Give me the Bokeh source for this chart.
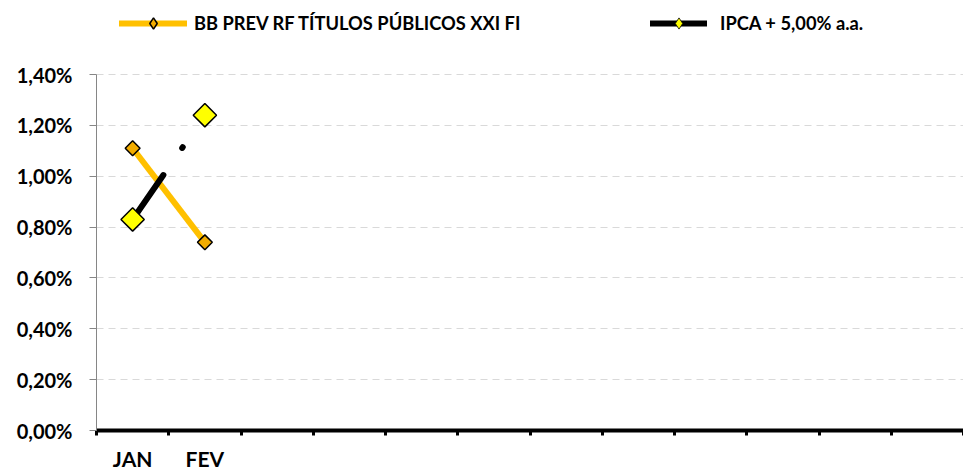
import math
from bokeh.plotting import figure
from bokeh.models import Range1d, FixedTicker, Legend, LegendItem
from bokeh.embed import file_html
from bokeh.resources import INLINE

# ---- data ----
months = ["JAN", "FEV"]
n_slots = 12
bb_prev = [1.11, 0.74]          # % a.m.
ipca = [0.83, 1.24]             # % a.m.
y_ticks = [0.0, 0.2, 0.4, 0.6, 0.8, 1.0, 1.2, 1.4]
y_tick_labels = ["0,00%", "0,20%", "0,40%", "0,60%", "0,80%", "1,00%", "1,20%", "1,40%"]
series_names = ["BB PREV RF TÍTULOS PÚBLICOS XXI FI", "IPCA + 5,00% a.a."]

FONT = "Lato"
x = [i + 0.5 for i in range(len(months))]

# layout (pixels): frame spans the full height above the x axis so the legend
# sits inside the frame; the y axis line is bounded to the data range.
W, H, LEFT, BOTTOM, PLOT_TOP = 963, 474, 96, 44, 74
frame_h = H - BOTTOM
y_max = y_ticks[-1]
y_end = y_max * frame_h / (frame_h - PLOT_TOP)

p = figure(width=W, height=H, x_range=Range1d(0, n_slots), y_range=Range1d(0, y_end),
           output_backend="svg", toolbar_location=None,
           min_border_left=LEFT, min_border_right=0, min_border_top=0, min_border_bottom=BOTTOM)
p.outline_line_color = None
p.background_fill_color = "white"

# x axis
xa = p.xaxis[0]
xa.ticker = FixedTicker(ticks=x, minor_ticks=list(range(n_slots + 1)))
xa.major_label_overrides = {xv: m for xv, m in zip(x, months)}
xa.major_tick_out = 0
xa.major_tick_in = 0
xa.minor_tick_out = 5
xa.minor_tick_in = 0
xa.minor_tick_line_color = "black"
xa.minor_tick_line_width = 3
xa.axis_line_color = "black"
xa.axis_line_width = 4
xa.major_label_standoff = 10
xa.major_label_text_font = FONT
xa.major_label_text_font_style = "bold"
xa.major_label_text_font_size = "21px"
xa.major_label_text_color = "black"

# y axis
ya = p.yaxis[0]
ya.ticker = FixedTicker(ticks=y_ticks)
ya.bounds = (0, y_max)
ya.major_label_overrides = {t: s for t, s in zip(y_ticks, y_tick_labels)}
ya.axis_line_color = "#868686"
ya.axis_line_width = 1
ya.major_tick_out = 7
ya.major_tick_in = 0
ya.major_tick_line_color = "#868686"
ya.minor_tick_line_color = None
ya.major_label_standoff = 17
ya.major_label_text_font = FONT
ya.major_label_text_font_style = "bold"
ya.major_label_text_font_size = "20px"
ya.major_label_text_color = "black"

p.xgrid.grid_line_color = None
p.ygrid.ticker = FixedTicker(ticks=y_ticks)
p.ygrid.grid_line_color = "#D9D9D9"
p.ygrid.grid_line_dash = "7 5"
p.ygrid.grid_line_width = 1

# series
l1 = p.line(x, bb_prev, line_color="#FFC000", line_width=6)
l2 = p.line(x, ipca, line_color="black", line_width=6, line_dash="54 33 1 80", line_cap="round")
m1 = p.scatter(x, bb_prev, marker="square", size=10.5, angle=math.pi / 4,
               fill_color="#F2AC00", line_color="black", line_width=1.5)
m2 = p.scatter(x, ipca, marker="square", size=16.5, angle=math.pi / 4,
               fill_color="#FFFF00", line_color="black", line_width=1.5)

# legend-only glyphs (solid lines, diamond markers)
lg1 = p.line(x, bb_prev, line_color="#FFC000", line_width=6, line_cap="round", visible=False)
lg2 = p.line(x, ipca, line_color="black", line_width=6, line_cap="round", visible=False)
lm1 = p.scatter(x, bb_prev, marker="diamond", size=10, fill_color="#F2AC00",
                line_color="black", line_width=1.5, visible=False)
lm2 = p.scatter(x, ipca, marker="diamond", size=10, fill_color="#FFFF00",
                line_color="black", line_width=0.8, visible=False)

GH = 28
def make_legend(label, rends, vx, gw, standoff):
    return Legend(items=[LegendItem(label=label, renderers=rends)],
                  location=(vx, frame_h - 23 - GH // 2),
                  orientation="horizontal", padding=0, margin=0, spacing=0,
                  glyph_width=gw, glyph_height=GH, label_height=GH, label_standoff=standoff,
                  border_line_color=None, background_fill_alpha=0,
                  label_text_font=FONT, label_text_font_style="bold",
                  label_text_font_size="18.3px", label_text_color="black",
                  label_text_baseline="middle")

p.add_layout(make_legend(series_names[0], [lg1, lm1], 23, 68, 7), "center")
p.add_layout(make_legend(series_names[1], [lg2, lm2], 554, 57, 13), "center")

open("out.html", "w").write(file_html(p, INLINE))
